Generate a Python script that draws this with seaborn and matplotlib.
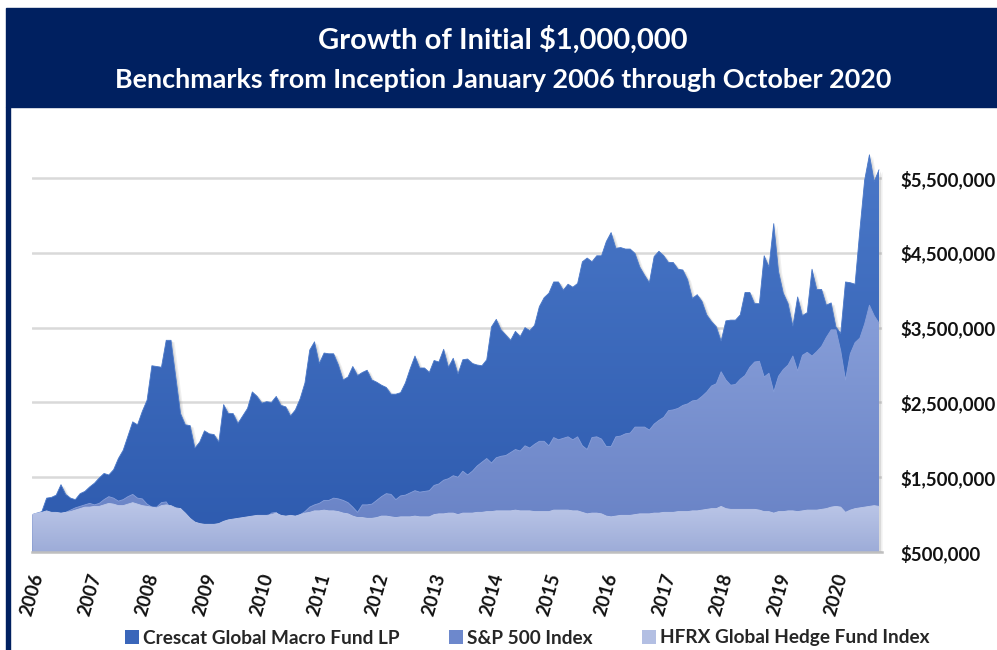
import numpy as np
import matplotlib
matplotlib.use("Agg")
import matplotlib.pyplot as plt
import matplotlib.transforms as mtransforms
from matplotlib.colors import LinearSegmentedColormap
from matplotlib.patches import Rectangle, Patch
import seaborn as sns

# values in $ millions, month by month from Jan 2006 to Oct 2020
crescat = [
    1.00, 1.02, 1.04, 1.22, 1.23, 1.26, 1.40, 1.27, 1.22, 1.20, 1.28, 1.31,  # 2006
    1.37, 1.42, 1.49, 1.55, 1.53, 1.60, 1.75, 1.86, 2.05, 2.24, 2.20, 2.38,  # 2007
    2.53, 2.99, 2.98, 2.97, 3.33, 3.33, 2.84, 2.35, 2.20, 2.19, 1.89, 1.97,  # 2008
    2.12, 2.08, 2.07, 1.97, 2.47, 2.35, 2.35, 2.22, 2.32, 2.42, 2.64, 2.58,  # 2009
    2.49, 2.51, 2.50, 2.58, 2.46, 2.44, 2.32, 2.40, 2.55, 2.76, 3.20, 3.31,  # 2010
    3.02, 3.16, 3.15, 3.15, 3.00, 2.80, 2.84, 2.98, 2.86, 2.90, 2.93, 2.80,  # 2011
    2.77, 2.73, 2.70, 2.61, 2.61, 2.63, 2.76, 2.95, 3.12, 2.96, 2.96, 2.90,  # 2012
    3.06, 3.04, 3.21, 2.97, 3.09, 2.88, 3.07, 3.08, 3.02, 3.00, 2.99, 3.07,  # 2013
    3.51, 3.61, 3.47, 3.40, 3.33, 3.45, 3.38, 3.50, 3.46, 3.53, 3.78, 3.90,  # 2014
    3.96, 4.11, 4.11, 4.00, 4.08, 4.04, 4.09, 4.38, 4.43, 4.38, 4.46, 4.46,  # 2015
    4.65, 4.77, 4.56, 4.57, 4.55, 4.55, 4.49, 4.31, 4.20, 4.10, 4.45, 4.52,  # 2016
    4.46, 4.37, 4.37, 4.28, 4.27, 4.14, 3.89, 3.94, 3.85, 3.67, 3.58, 3.51,  # 2017
    3.32, 3.59, 3.60, 3.60, 3.67, 3.97, 3.97, 3.82, 3.82, 4.46, 4.31, 4.89,  # 2018
    4.25, 3.96, 3.82, 3.52, 3.91, 3.66, 3.70, 4.28, 4.01, 4.01, 3.80, 3.83,  # 2019
    3.51, 3.42, 4.11, 4.10, 4.08, 4.80, 5.47, 5.81, 5.45, 5.61,              # 2020
]
sp500 = [
    1.00, 1.01, 1.02, 1.03, 1.00, 1.00, 1.01, 1.03, 1.06, 1.09, 1.11, 1.13,
    1.15, 1.13, 1.15, 1.20, 1.24, 1.22, 1.18, 1.20, 1.24, 1.27, 1.22, 1.21,
    1.14, 1.10, 1.10, 1.16, 1.17, 1.07, 1.06, 1.08, 0.98, 0.82, 0.76, 0.77,
    0.70, 0.63, 0.68, 0.75, 0.79, 0.79, 0.85, 0.88, 0.91, 0.90, 0.95, 0.97,
    0.93, 0.96, 1.02, 1.03, 0.95, 0.90, 0.96, 0.92, 1.00, 1.04, 1.10, 1.13,
    1.15, 1.19, 1.19, 1.22, 1.21, 1.19, 1.16, 1.10, 1.03, 1.13, 1.13, 1.14,
    1.19, 1.24, 1.28, 1.27, 1.20, 1.25, 1.26, 1.29, 1.32, 1.30, 1.31, 1.32,
    1.39, 1.41, 1.46, 1.48, 1.52, 1.50, 1.58, 1.53, 1.58, 1.65, 1.70, 1.75,
    1.69, 1.76, 1.78, 1.79, 1.83, 1.87, 1.85, 1.92, 1.89, 1.94, 1.98, 1.98,
    1.92, 2.03, 2.00, 2.02, 2.04, 2.00, 2.04, 1.92, 1.87, 2.03, 2.04, 2.01,
    1.91, 1.91, 2.04, 2.05, 2.08, 2.09, 2.17, 2.17, 2.17, 2.13, 2.21, 2.26,
    2.30, 2.39, 2.40, 2.42, 2.46, 2.48, 2.52, 2.53, 2.58, 2.64, 2.72, 2.75,
    2.91, 2.80, 2.73, 2.74, 2.81, 2.86, 2.97, 3.04, 3.05, 2.84, 2.89, 2.64,
    2.85, 2.94, 3.00, 3.12, 2.92, 3.13, 3.17, 3.12, 3.18, 3.25, 3.37, 3.47,
    3.47, 3.19, 2.80, 3.15, 3.30, 3.36, 3.55, 3.80, 3.66, 3.56,
]
hfrx = [
    1.00, 1.02, 1.03, 1.05, 1.03, 1.03, 1.02, 1.03, 1.04, 1.06, 1.08, 1.10,
    1.10, 1.11, 1.11, 1.13, 1.15, 1.14, 1.12, 1.12, 1.14, 1.16, 1.14, 1.12,
    1.11, 1.10, 1.09, 1.12, 1.13, 1.12, 1.09, 1.08, 1.02, 0.95, 0.90, 0.88,
    0.87, 0.87, 0.87, 0.88, 0.91, 0.93, 0.94, 0.95, 0.96, 0.97, 0.98, 0.99,
    0.99, 0.99, 1.00, 1.02, 0.99, 0.98, 0.99, 0.98, 1.00, 1.02, 1.03, 1.05,
    1.05, 1.06, 1.05, 1.05, 1.04, 1.02, 1.01, 0.98, 0.96, 0.96, 0.95, 0.95,
    0.96, 0.98, 0.98, 0.97, 0.96, 0.97, 0.97, 0.97, 0.98, 0.97, 0.97, 0.97,
    1.00, 1.01, 1.01, 1.02, 1.02, 1.00, 1.02, 1.02, 1.02, 1.03, 1.03, 1.04,
    1.04, 1.05, 1.05, 1.05, 1.05, 1.06, 1.05, 1.05, 1.05, 1.04, 1.04, 1.04,
    1.04, 1.06, 1.06, 1.06, 1.06, 1.05, 1.05, 1.03, 1.01, 1.02, 1.02, 1.01,
    0.98, 0.97, 0.98, 0.99, 0.99, 0.99, 1.00, 1.01, 1.01, 1.01, 1.02, 1.02,
    1.03, 1.03, 1.03, 1.04, 1.04, 1.04, 1.05, 1.05, 1.06, 1.07, 1.08, 1.08,
    1.11, 1.08, 1.07, 1.07, 1.07, 1.07, 1.07, 1.07, 1.06, 1.04, 1.04, 1.02,
    1.04, 1.04, 1.05, 1.05, 1.04, 1.05, 1.06, 1.06, 1.06, 1.07, 1.08, 1.10,
    1.11, 1.10, 1.03, 1.06, 1.08, 1.09, 1.10, 1.11, 1.12, 1.11,
]
series_names = ["Crescat Global Macro Fund LP", "S&P 500 Index", "HFRX Global Hedge Fund Index"]
years = [str(y) for y in range(2006, 2021)]
yticks = [500000, 1500000, 2500000, 3500000, 4500000, 5500000]

months = np.arange(len(crescat))
base = 500000

sns.set_style("white")
plt.rcParams["font.family"] = ["Lato", "DejaVu Sans"]
plt.rcParams["font.weight"] = "bold"

fig = plt.figure(figsize=(9.97, 6.5), dpi=100)
W, H = 997, 650

# header band + left border
fig.patches.append(Rectangle((6 / W, 1 - 107 / H), 1, 99 / H, transform=fig.transFigure,
                             color="#002060", zorder=0))
fig.patches.append(Rectangle((6 / W, 0), 4 / W, 1 - 107 / H, transform=fig.transFigure,
                             color="#002060", zorder=0))
fig.text(0.504, 1 - 40 / H, "Growth of Initial $1,000,000", color="white",
         fontsize=21, fontweight="bold", ha="center", va="center")
fig.text(0.505, 1 - 80 / H, "Benchmarks from Inception January 2006 through October 2020",
         color="white", fontsize=19.4, fontweight="bold", ha="center", va="center")

x0, x1 = 32.3, 882.0
ytop = 6.1e6
ax = fig.add_axes([x0 / W, 1 - 552 / H, (x1 - x0) / W, (ytop - base) / 1e6 * 74.8 / H])
xmax = (x1 - x0) / ((879 - x0) / (len(months) - 1))

def gradient_area(vals, top_c, bot_c, z, shadow=False):
    v = np.array(vals) * 1e6
    if shadow:
        for off, a in [(1.5, 0.18), (3.0, 0.12)]:
            tr = mtransforms.offset_copy(ax.transData, fig=fig, x=off, y=-off * 0.5, units="dots")
            ax.fill_between(months, base, v, color="#7f7f7f", alpha=a, lw=0,
                            transform=tr, zorder=z - 0.5)
    poly = ax.fill_between(months, base, v, color="none", lw=0, zorder=z)
    cmap = LinearSegmentedColormap.from_list("g", [bot_c, top_c])
    grad = np.linspace(0, 1, 256).reshape(-1, 1)
    im = ax.imshow(grad, cmap=cmap, aspect="auto", origin="lower",
                   extent=[0, months[-1], base, v.max()], zorder=z, interpolation="bilinear")
    im.set_clip_path(poly.get_paths()[0], transform=ax.transData)
    sns.lineplot(x=months, y=v, ax=ax, color=top_c, lw=0.6, zorder=z + 0.1, legend=False)

gradient_area(crescat, "#4a78c8", "#2d5aae", 2, shadow=True)
gradient_area(sp500, "#889fd9", "#6680c4", 3)
gradient_area(hfrx, "#bcc7e8", "#9dacd8", 4)

ax.set_xlim(0, xmax)
ax.set_ylim(base, ytop)
ax.set_yticks(yticks)
ax.set_yticklabels([f"${v:,.0f}" for v in yticks])
ax.yaxis.tick_right()
ax.grid(axis="y", color="#d9d9d9", lw=1.8, zorder=1)
ax.set_axisbelow(True)
ax.tick_params(axis="y", length=0, pad=13, labelsize=13.4, labelcolor="#111111")
ax.set_xticks(np.arange(0, len(months), 12))
ax.set_xticklabels(years, rotation=74, ha="right", va="center", rotation_mode="anchor")
ax.tick_params(axis="x", direction="inout", length=9, width=2, color="#d0d0d0",
               pad=11, labelsize=13.5, labelcolor="#111111")
shift = mtransforms.ScaledTranslation(6 / 100, 0, fig.dpi_scale_trans)
for lbl in ax.get_xticklabels():
    lbl.set_transform(lbl.get_transform() + shift)
for s in ["top", "left", "right"]:
    ax.spines[s].set_visible(False)
ax.spines["bottom"].set_color("#bfbfbf")
ax.spines["bottom"].set_linewidth(1.8)
ax.spines["bottom"].set_zorder(6)
ax.set_xlabel("")
ax.set_ylabel("")

handles = [Patch(facecolor=c, edgecolor="none") for c in ["#3a66ba", "#6d88cc", "#b3bfe3"]]
fig.legend(handles, series_names, ncol=3, loc="center", bbox_to_anchor=(0.529, 1 - 638 / H),
           frameon=False, handlelength=0.75, handleheight=0.75, handletextpad=0.2,
           columnspacing=2.6, prop={"size": 13.7, "weight": "bold"})

fig.savefig("out.png", dpi=100)
